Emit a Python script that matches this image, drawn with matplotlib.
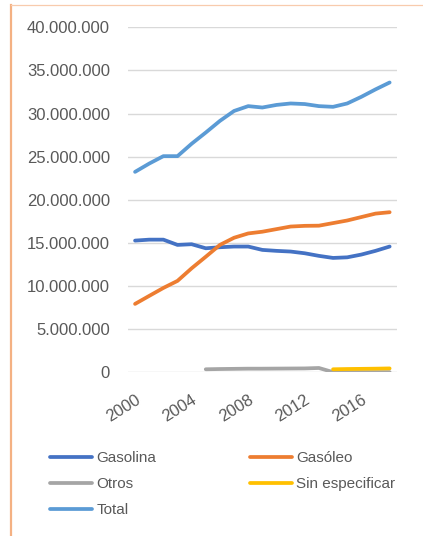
import matplotlib

matplotlib.use("Agg")
import matplotlib.pyplot as plt
from matplotlib.lines import Line2D
from matplotlib.ticker import FuncFormatter

years = list(range(2000, 2019))
gasolina = [15.27, 15.38, 15.38, 14.77, 14.85, 14.38, 14.5, 14.58, 14.58, 14.19,
            14.08, 14.0, 13.8, 13.5, 13.26, 13.33, 13.65, 14.08, 14.58]
gasoleo = [7.93, 8.86, 9.78, 10.6, 12.06, 13.4, 14.77, 15.6, 16.1, 16.3,
           16.6, 16.9, 16.98, 17.0, 17.3, 17.6, 18.0, 18.4, 18.56]
otros_years = list(range(2005, 2019))
otros = [0.35, 0.38, 0.4, 0.42, 0.42, 0.43, 0.44, 0.45, 0.5, 0.02,
         0.02, 0.02, 0.02, 0.02]
sin_esp_years = list(range(2014, 2019))
sin_esp = [0.35, 0.38, 0.4, 0.42, 0.45]
total = [23.24, 24.2, 25.06, 25.06, 26.5, 27.8, 29.15, 30.3, 30.86, 30.7,
         31.0, 31.17, 31.1, 30.86, 30.78, 31.17, 31.94, 32.8, 33.6]
tick_years = [2000, 2004, 2008, 2012, 2016]

plt.rcParams["font.family"] = ["Liberation Sans", "DejaVu Sans"]
text_color = "#595959"

fig = plt.figure(figsize=(4.23, 5.36), dpi=100)
ax = fig.add_axes([128 / 423, 1 - 372.3 / 536, (396.7 - 128) / 423, (372.3 - 27.3) / 536])

style = dict(linewidth=2.7, solid_capstyle="round", solid_joinstyle="round")
l_gasolina, = ax.plot(years, [v * 1e6 for v in gasolina], color="#4472C4",
                      label="Gasolina", **style)
l_gasoleo, = ax.plot(years, [v * 1e6 for v in gasoleo], color="#ED7D31",
                     label="Gasóleo", **style)
l_otros, = ax.plot(otros_years, [v * 1e6 for v in otros], color="#A5A5A5",
                   label="Otros", **style)
l_sin, = ax.plot(sin_esp_years, [v * 1e6 for v in sin_esp], color="#FFC000",
                 label="Sin especificar", **style)
l_total, = ax.plot(years, [v * 1e6 for v in total], color="#5B9BD5",
                   label="Total", **style)

ax.set_xlim(1999.5, 2018.5)
ax.set_ylim(0, 40e6)
ax.set_yticks([i * 5e6 for i in range(9)])
ax.yaxis.set_major_formatter(
    FuncFormatter(lambda v, _: f"{int(v):,}".replace(",", ".")))
ax.set_xticks(tick_years)
ax.set_xticklabels([str(y) for y in tick_years], rotation=32, ha="right",
                   va="top", rotation_mode="anchor")
ax.tick_params(axis="y", length=0, pad=13, labelsize=12, labelcolor=text_color)
ax.tick_params(axis="x", length=0, pad=14, labelsize=12, labelcolor=text_color)
ax.grid(axis="y", color="#D9D9D9", linewidth=1)
ax.set_axisbelow(True)
for side in ax.spines.values():
    side.set_visible(False)

# legend reads row by row, matplotlib fills columns first
handles = [l_gasolina, l_otros, l_total, l_gasoleo, l_sin]
leg = fig.legend(handles, [h.get_label() for h in handles], loc="upper left",
                 bbox_to_anchor=(50 / 423, 1 - 451 / 536), ncol=2, frameon=False,
                 fontsize=11, handlelength=2.75, handletextpad=0.3,
                 columnspacing=6.1, labelspacing=0.8, borderaxespad=0,
                 borderpad=0)
for t in leg.get_texts():
    t.set_color(text_color)

# chart frame edges
fig.add_artist(Line2D([11 / 423, 11 / 423], [0, 1 - 5 / 536], color="#F4B183",
                      linewidth=1.6, transform=fig.transFigure))
fig.add_artist(Line2D([11 / 423, 1], [1 - 5 / 536, 1 - 5 / 536], color="#F8CBAD",
                      linewidth=0.9, transform=fig.transFigure))

fig.savefig("out.png", dpi=100)
